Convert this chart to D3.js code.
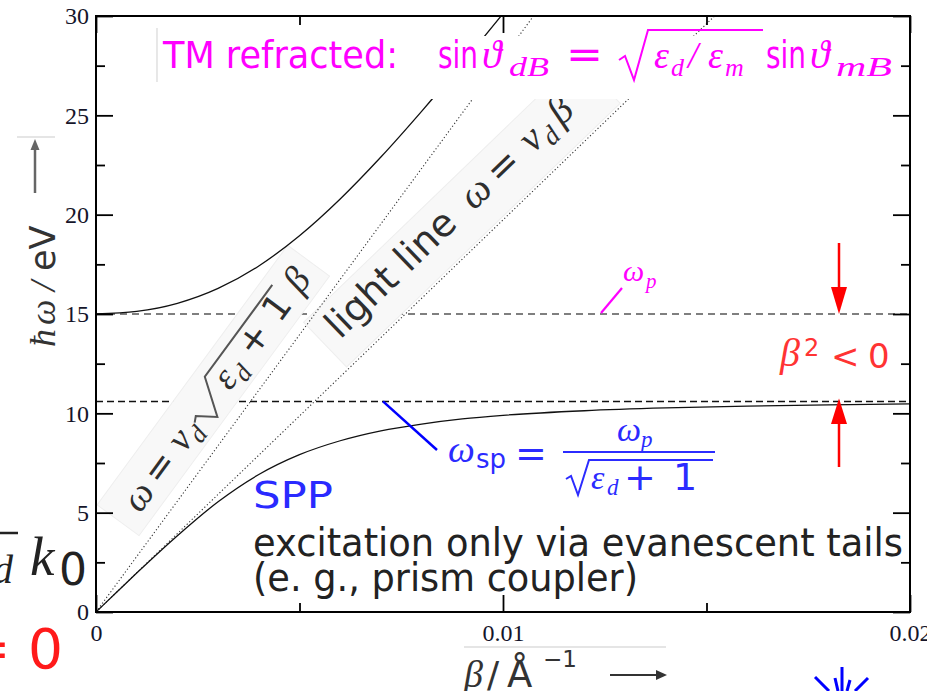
<!DOCTYPE html>
<html><head><meta charset="utf-8">
<script src="https://cdn.jsdelivr.net/npm/d3@7"></script>
<style>body{margin:0;background:#fff}svg{display:block}</style>
</head><body>
<svg id="c" width="927" height="691"></svg>
<script>
// ---------- data ----------
const betaLower  = [0,0.0005,0.001,0.002,0.003,0.004,0.005,0.006,0.007,0.008,0.009,0.010,0.012,0.014,0.016,0.018,0.020];
const omegaLower = [0,0.98,1.96,3.84,5.55,6.92,7.92,8.62,9.12,9.46,9.72,9.90,10.13,10.27,10.36,10.43,10.48];
const betaUpper  = [0,0.001,0.002,0.003,0.004,0.005,0.006,0.007,0.008,0.009,0.010];
const omegaUpper = [15.0,15.13,15.54,16.29,17.42,18.94,20.79,22.90,25.20,27.62,30.12];
const lightBeta  = [0,0.0152];
const lightOmega = [0,30];
const dielBeta   = [0,0.01075];
const dielOmega  = [0,30];
const omegaP  = 15;
const omegaSP = 10.6;
const xTicks = [0,0.01,0.02];
const xTickLabels = ["0","0.01","0.02"];
const xMinor = [0.005,0.015];
const yTicks = [0,5,10,15,20,25,30];
const yMinor = [2.5,7.5,12.5,17.5,22.5,27.5];

// ---------- setup ----------
const svg = d3.select("#c");
const x = d3.scaleLinear().domain([0,0.02]).range([96,910]);
const y = d3.scaleLinear().domain([0,30]).range([612,16]);
const SANS = "'DejaVu Sans', sans-serif";
const MATH = "'Liberation Serif','DejaVu Serif',serif";
const TNR = "'Liberation Serif','Times New Roman',serif";

svg.append("defs").append("clipPath").attr("id","plot")
  .append("rect").attr("x",x(0)).attr("y",y(30)).attr("width",x(0.02)-x(0)).attr("height",y(0)-y(30));

function t(parent, s, px, py, o) {
  o = o || {};
  const e = parent.append("text").attr("x",px).attr("y",py).text(s)
    .style("font-family", o.ff || SANS).style("font-size", (o.fs || 20) + "px")
    .attr("fill", o.fill || "#222");
  if (o.it) e.style("font-style","italic");
  if (o.tl) e.attr("textLength",o.tl).attr("lengthAdjust","spacingAndGlyphs");
  if (o.anchor) e.attr("text-anchor",o.anchor);
  return e;
}

// ---------- dashed reference lines ----------
const plotBack = svg.append("g").attr("clip-path","url(#plot)");
plotBack.append("line").attr("x1",x(0)).attr("x2",x(0.02)).attr("y1",y(omegaP)).attr("y2",y(omegaP))
  .attr("stroke","#555").attr("stroke-width",1.5).attr("stroke-dasharray","7,5");
plotBack.append("line").attr("x1",x(0)).attr("x2",x(0.02)).attr("y1",y(omegaSP)).attr("y2",y(omegaSP))
  .attr("stroke","#111").attr("stroke-width",1.5).attr("stroke-dasharray","7,4");

// ---------- rotated labels along the lines ----------
const angLight = Math.atan2(y(lightOmega[1])-y(lightOmega[0]), x(lightBeta[1])-x(lightBeta[0]))*180/Math.PI;
const angDiel  = Math.atan2(y(dielOmega[1])-y(dielOmega[0]), x(dielBeta[1])-x(dielBeta[0]))*180/Math.PI;
const BOX = "#f8f8f8", BOXS = "#eeeeee", LC = "#2e2e2e";

const gl = svg.append("g").attr("transform",`translate(340,340) rotate(${angLight})`);
gl.append("rect").attr("x",-14).attr("y",-38).attr("width",380).attr("height",62)
  .attr("fill",BOX).attr("stroke",BOXS);
t(gl,"light line",0,0,{fs:38,fill:LC});
t(gl,"ω",186,0,{fs:40,ff:MATH,it:true,fill:LC});
t(gl,"=",222,0,{fs:38,fill:LC});
t(gl,"v",268,0,{fs:40,ff:MATH,it:true,fill:LC});
t(gl,"d",287,8,{fs:27,ff:MATH,it:true,fill:LC});
t(gl,"β",308,0,{fs:40,ff:MATH,it:true,fill:LC});

const gd = svg.append("g").attr("transform",`translate(140,514) rotate(${angDiel})`);
gd.append("rect").attr("x",-18).attr("y",-40).attr("width",322).attr("height",52)
  .attr("fill",BOX).attr("stroke",BOXS);
t(gd,"ω",0,0,{fs:38,ff:MATH,it:true,fill:LC});
t(gd,"=",34,0,{fs:36,fill:LC});
t(gd,"v",75,0,{fs:38,ff:MATH,it:true,fill:LC});
t(gd,"d",92,8,{fs:26,ff:MATH,it:true,fill:LC});
gd.append("path").attr("d","M106,-10 L112,-13 L124,5 L149,-29 L263,-29")
  .attr("fill","none").attr("stroke","#555").attr("stroke-width",2);
t(gd,"ε",152,0,{fs:38,ff:MATH,it:true,fill:LC});
t(gd,"d",168,8,{fs:26,ff:MATH,it:true,fill:LC});
t(gd,"+",193,0,{fs:36,fill:LC});
t(gd,"1",236,0,{fs:36,fill:LC});
t(gd,"β",272,0,{fs:38,ff:MATH,it:true,fill:LC});

// ---------- curves & lines ----------
const plot = svg.append("g").attr("clip-path","url(#plot)");
const line = d3.line().x(d=>x(d[0])).y(d=>y(d[1]));
const smooth = d3.line().x(d=>x(d[0])).y(d=>y(d[1])).curve(d3.curveMonotoneX);
plot.append("path").datum(lightBeta.map((b,i)=>[b,lightOmega[i]])).attr("d",line)
  .attr("fill","none").attr("stroke","#333").attr("stroke-width",1.1).attr("stroke-dasharray","1.2,2.3");
plot.append("path").datum(dielBeta.map((b,i)=>[b,dielOmega[i]])).attr("d",line)
  .attr("fill","none").attr("stroke","#333").attr("stroke-width",1.1).attr("stroke-dasharray","1.2,2.3");
plot.append("path").datum(betaLower.map((b,i)=>[b,omegaLower[i]])).attr("d",smooth)
  .attr("fill","none").attr("stroke","#111").attr("stroke-width",1.3);
plot.append("path").datum(betaUpper.map((b,i)=>[b,omegaUpper[i]])).attr("d",smooth)
  .attr("fill","none").attr("stroke","#111").attr("stroke-width",1.3);

// ---------- TM refracted headline ----------
const MG = "#ff00ff";
svg.append("rect").attr("x",158).attr("y",36).attr("width",747).attr("height",63).attr("fill","#fff");
svg.append("line").attr("x1",157).attr("x2",157).attr("y1",28).attr("y2",82).attr("stroke","#d8d8d8").attr("stroke-width",1.2);
t(svg,"TM refracted:",163,68,{fs:37,fill:MG,tl:235});
t(svg,"sin",438,68,{fs:37,fill:MG,tl:40});
t(svg,"ϑ",482,68,{fs:40,ff:MATH,it:true,fill:MG});
t(svg,"dB",509,76,{fs:28,ff:MATH,it:true,fill:MG,tl:40});
t(svg,"=",566,68,{fs:40,fill:MG,tl:37});
svg.append("path").attr("d","M619,60 L625,56 L634,80 L648,30 L763,30")
  .attr("fill","none").attr("stroke",MG).attr("stroke-width",2);
t(svg,"ε",654,68,{fs:38,ff:MATH,it:true,fill:MG});
t(svg,"d",671,76,{fs:26,ff:MATH,it:true,fill:MG});
t(svg,"/",688,68,{fs:37,ff:MATH,it:true,fill:MG});
t(svg,"ε",708,68,{fs:38,ff:MATH,it:true,fill:MG});
t(svg,"m",725,76,{fs:26,ff:MATH,it:true,fill:MG});
t(svg,"sin",766,68,{fs:37,fill:MG,tl:40});
t(svg,"ϑ",810,68,{fs:40,ff:MATH,it:true,fill:MG});
t(svg,"mB",836,76,{fs:28,ff:MATH,it:true,fill:MG,tl:56});

// ---------- axes ----------
const AX = "#000", TL = "#15152a";
function styleAxis(g){ g.select(".domain").remove(); g.selectAll(".tick line").attr("stroke",AX).attr("stroke-width",1.8); }
function styleLabels(g){ g.selectAll("text").style("font-family",TNR).style("font-size","24px").attr("fill",TL); }
svg.append("g").attr("transform",`translate(${x(0)},0)`)
  .call(d3.axisLeft(y).tickValues(yTicks).tickSize(-17).tickPadding(7).tickFormat(d3.format("d")))
  .call(styleAxis).call(styleLabels);
svg.append("g").attr("transform",`translate(${x(0)},0)`)
  .call(d3.axisLeft(y).tickValues(yMinor).tickSize(-9).tickFormat(()=>"")).call(styleAxis);
svg.append("g").attr("transform",`translate(${x(0.02)},0)`)
  .call(d3.axisRight(y).tickValues(yTicks).tickSize(-17).tickFormat(()=>"")).call(styleAxis);
svg.append("g").attr("transform",`translate(${x(0.02)},0)`)
  .call(d3.axisRight(y).tickValues(yMinor).tickSize(-9).tickFormat(()=>"")).call(styleAxis);
svg.append("g").attr("transform",`translate(0,${y(0)})`)
  .call(d3.axisBottom(x).tickValues(xTicks).tickSize(-17).tickPadding(12).tickFormat((d,i)=>xTickLabels[i]))
  .call(styleAxis).call(styleLabels);
svg.append("g").attr("transform",`translate(0,${y(0)})`)
  .call(d3.axisBottom(x).tickValues(xMinor).tickSize(-9).tickFormat(()=>"")).call(styleAxis);
svg.append("g").attr("transform",`translate(0,${y(30)})`)
  .call(d3.axisTop(x).tickValues(xTicks).tickSize(-17).tickFormat(()=>"")).call(styleAxis);
svg.append("g").attr("transform",`translate(0,${y(30)})`)
  .call(d3.axisTop(x).tickValues(xMinor).tickSize(-9).tickFormat(()=>"")).call(styleAxis);
svg.append("rect").attr("x",x(0)).attr("y",y(30)).attr("width",x(0.02)-x(0)).attr("height",y(0)-y(30))
  .attr("fill","none").attr("stroke",AX).attr("stroke-width",2);

// ---------- annotations ----------
// omega_p
svg.append("line").attr("x1",601).attr("y1",y(omegaP)-1).attr("x2",622).attr("y2",288).attr("stroke",MG).attr("stroke-width",2.2);
t(svg,"ω",623,281,{fs:30,ff:MATH,it:true,fill:MG});
t(svg,"p",646,288,{fs:21,ff:MATH,it:true,fill:MG});

// beta^2 < 0 with arrows
const RED = "#ff0000";
svg.append("line").attr("x1",839).attr("x2",839).attr("y1",243).attr("y2",290).attr("stroke",RED).attr("stroke-width",2.5);
svg.append("path").attr("d",`M831,287 L847,287 L839,${y(omegaP)} Z`).attr("fill",RED);
svg.append("line").attr("x1",839).attr("x2",839).attr("y1",467).attr("y2",421).attr("stroke",RED).attr("stroke-width",2.5);
svg.append("path").attr("d",`M831,424 L847,424 L839,${y(omegaSP)-3} Z`).attr("fill",RED);
const RT = "#ff3333";
t(svg,"β",780,366,{fs:40,ff:MATH,it:true,fill:RT});
t(svg,"2",804,356,{fs:24,fill:RT});
t(svg,"<",831,368,{fs:34,fill:RT});
t(svg,"0",868,368,{fs:34,fill:RT});

// omega_sp formula
const BL = "#2b2bff";
svg.append("line").attr("x1",383).attr("y1",y(omegaSP)).attr("x2",437).attr("y2",450).attr("stroke","#0000ff").attr("stroke-width",2.5);
t(svg,"ω",448,462,{fs:38,ff:MATH,it:true,fill:BL});
t(svg,"sp",476,468,{fs:26,fill:BL});
t(svg,"=",515,466,{fs:38,fill:BL});
t(svg,"ω",617,441,{fs:34,ff:MATH,it:true,fill:BL});
t(svg,"p",641,447,{fs:23,ff:MATH,it:true,fill:BL});
svg.append("line").attr("x1",563).attr("x2",715).attr("y1",452).attr("y2",452).attr("stroke",BL).attr("stroke-width",2);
svg.append("path").attr("d","M566,479 L571,476 L578,495 L589,460 L713,460").attr("fill","none").attr("stroke",BL).attr("stroke-width",2);
t(svg,"ε",591,489,{fs:34,ff:MATH,it:true,fill:BL});
t(svg,"d",607,495,{fs:23,ff:MATH,it:true,fill:BL});
t(svg,"+",624,490,{fs:38,fill:BL});
t(svg,"1",673,490,{fs:38,fill:BL});

// SPP text
t(svg,"SPP",253,508,{fs:37,fill:"#2a2aff",tl:80});
t(svg,"excitation only via evanescent tails",253,556,{fs:39,fill:"#222",tl:650});
t(svg,"(e. g., prism coupler)",253,591,{fs:39,fill:"#222",tl:385});

// y-axis title
const YC = "#333";
const gy = svg.append("g").attr("transform","translate(55,347) rotate(-90)");
t(gy,"ħ",0,0,{fs:36,ff:MATH,it:true,fill:YC});
t(gy,"ω",22,0,{fs:36,ff:MATH,it:true,fill:YC});
t(gy,"/",56,0,{fs:36,ff:MATH,it:true,fill:YC});
t(gy,"eV",76,0,{fs:35,fill:YC});
svg.append("line").attr("x1",17).attr("x2",55).attr("y1",137).attr("y2",137).attr("stroke","#ddd").attr("stroke-width",1.5);
svg.append("line").attr("x1",35).attr("x2",35).attr("y1",193).attr("y2",146).attr("stroke","#666").attr("stroke-width",2.5);
svg.append("path").attr("d","M35,139 L30.5,150 L39.5,150 Z").attr("fill","#666");

// x-axis title
svg.append("line").attr("x1",464).attr("x2",666).attr("y1",647).attr("y2",647).attr("stroke","#ddd").attr("stroke-width",1.5);
t(svg,"β",464,687,{fs:38,ff:MATH,it:true,fill:YC});
t(svg,"/",487,687,{fs:36,fill:YC});
t(svg,"Å",507,687,{fs:37,fill:YC});
t(svg,"−1",543,667,{fs:23,fill:YC});
svg.append("line").attr("x1",610).attr("x2",660).attr("y1",675).attr("y2",675).attr("stroke","#333").attr("stroke-width",2);
svg.append("path").attr("d","M667,675 L656,670 L656,680 Z").attr("fill","#333");

// fragments of neighbouring content at the left edge
t(svg,"d",13,583,{fs:40,ff:MATH,it:true,fill:"#222",anchor:"end"});
svg.append("line").attr("x1",0).attr("x2",18).attr("y1",533).attr("y2",533).attr("stroke","#222").attr("stroke-width",2.5);
t(svg,"k",30,575,{fs:55,ff:MATH,it:true,fill:"#222"});
t(svg,"0",59,585,{fs:44,fill:"#222"});
t(svg,"= 0",63,668,{fs:55,fill:"#ff1a1a",anchor:"end"});

// blue burst at bottom right
const burst = [[842,667,842,691],[835,678,838,691],[850,680,847,691],[815,677,829,691],[868,678,855,691]];
svg.selectAll(".burst").data(burst).enter().append("line")
  .attr("x1",d=>d[0]).attr("y1",d=>d[1]).attr("x2",d=>d[2]).attr("y2",d=>d[3])
  .attr("stroke","#0000ff").attr("stroke-width",3);
</script>
</body></html>
